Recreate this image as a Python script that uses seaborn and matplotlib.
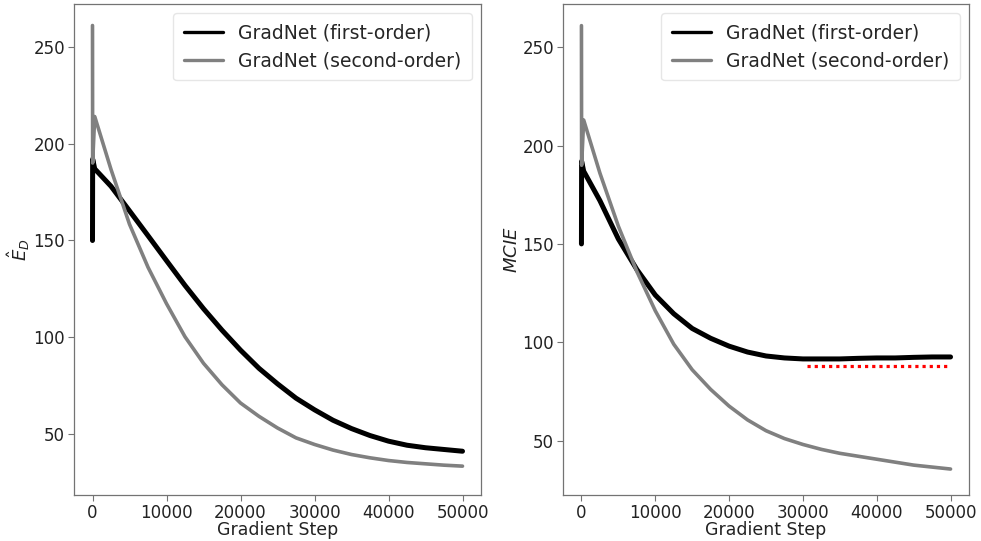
import matplotlib
matplotlib.use("Agg")
import matplotlib.pyplot as plt
import seaborn as sns

sns.set_style("white")
plt.rcParams['font.family'] = ['DejaVu Sans']

# ---- data ----
steps = [0, 20, 300, 2500, 5000, 7500, 10000, 12500, 15000, 17500, 20000, 22500,
         25000, 27500, 30000, 32500, 35000, 37500, 40000, 42500, 45000, 47500, 50000]

ed_first = [150, 192, 187, 178, 165.3, 152.5, 139.6, 126.8, 114.8, 103.7, 93.4, 84,
            76, 68.6, 62.6, 57.2, 52.9, 49.3, 46.4, 44.3, 43, 42.1, 41.2]
ed_second = [261, 190, 214, 186.7, 158.4, 136.2, 117.4, 100.3, 86.6, 75.5, 66.1, 59.2,
             53.2, 48.1, 44.7, 41.8, 39.5, 37.8, 36.4, 35.4, 34.7, 34, 33.5]

mcie_first = [150, 192, 187, 172, 152.5, 137, 124, 114.5, 107, 102, 98, 95,
              93, 92, 91.5, 91.5, 91.5, 91.8, 92, 92, 92.3, 92.5, 92.5]
mcie_second = [261, 190, 213, 186, 159, 136, 116, 99, 86, 76, 67.5, 60.5,
               55, 51, 48, 45.5, 43.5, 42, 40.5, 39, 37.5, 36.5, 35.5]

ref_steps = [30500, 49500]
ref_value = [88, 88]

labels = ["GradNet (first-order)", "GradNet (second-order)"]
xticks = [0, 10000, 20000, 30000, 40000, 50000]
yticks = [50, 100, 150, 200, 250]

fig = plt.figure(figsize=(9.81, 5.41), dpi=100)
ax1 = fig.add_axes([74/981, 1-495/541, (481-74)/981, 491/541])
ax2 = fig.add_axes([563/981, 1-495/541, (969-563)/981, 491/541])

edge = '0.45'
panels = [(ax1, ed_first, ed_second, r'$\hat{E}_D$', (18.6, 272.1)),
          (ax2, mcie_first, mcie_second, r'$MCIE$', (22.3, 272.0))]
for ax, first, second, ylab, ylim in panels:
    sns.lineplot(x=steps, y=first, color='black', lw=3.6, label=labels[0],
                 ax=ax, sort=False, estimator=None)
    sns.lineplot(x=steps, y=second, color='#808080', lw=2.6, label=labels[1],
                 ax=ax, sort=False, estimator=None)
    ax.set_xticks(xticks)
    ax.set_yticks(yticks)
    ax.set_ylim(*ylim)
    ax.tick_params(axis='both', labelsize=12, length=4, width=0.8, pad=2.5,
                   color=edge, labelcolor='#222222', left=True, bottom=True)
    for s in ax.spines.values():
        s.set_edgecolor(edge)
        s.set_linewidth(0.9)
    ax.set_xlabel("Gradient Step", fontsize=12.5, color='#222222', labelpad=-1)
    ax.set_ylabel(ylab, fontsize=13, color='#222222', labelpad=1)
    leg = ax.legend(loc='upper right', fontsize=13.5, handlelength=2.1,
                    handletextpad=0.8, borderpad=0.55, labelspacing=0.45,
                    frameon=True, fancybox=True, borderaxespad=0.5)
    leg.get_frame().set_edgecolor('0.88')
    for lh in leg.get_lines():
        lh.set_linewidth(2.4)

sns.lineplot(x=ref_steps, y=ref_value, color='red', lw=2.3, ax=ax2,
             dashes=False, legend=False)
ax2.lines[-1].set_linestyle((0, (1, 1.25)))

fig.savefig("out.png", dpi=100)
